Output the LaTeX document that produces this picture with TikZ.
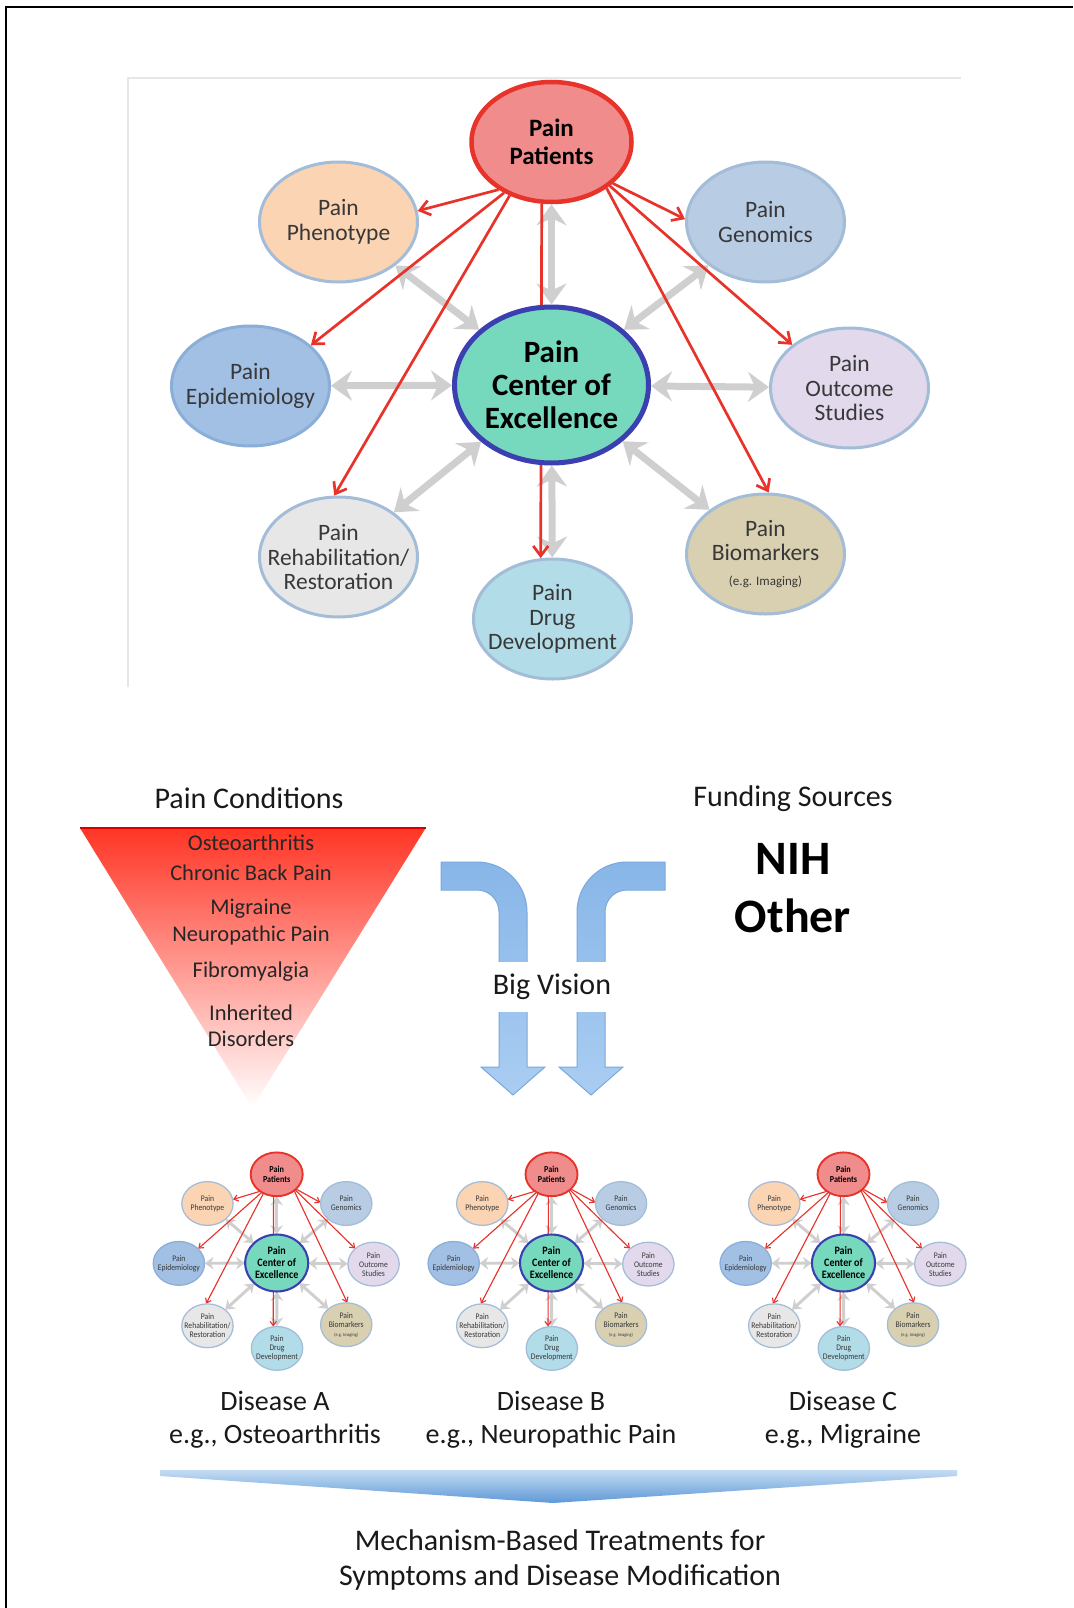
\documentclass[tikz,border=0pt]{standalone}
\usepackage{fontspec}
\setmainfont{Carlito}
\usetikzlibrary{arrows.meta,shapes.geometric}
\pgfdeclarelayer{bg}
\pgfdeclarelayer{mid}
\pgfsetlayers{bg,mid,main}
\definecolor{cPat}{HTML}{F08C8C}
\definecolor{cPatB}{HTML}{E8332B}
\definecolor{cPhe}{HTML}{FBD4B4}
\definecolor{cGen}{HTML}{B8CCE4}
\definecolor{cEpi}{HTML}{A2C0E4}
\definecolor{cEpiB}{HTML}{8AAED8}
\definecolor{cCen}{HTML}{76D8BC}
\definecolor{cCenB}{HTML}{3B3FB0}
\definecolor{cOut}{HTML}{E2DAEC}
\definecolor{cReh}{HTML}{E7E7E7}
\definecolor{cBio}{HTML}{D8D0B0}
\definecolor{cDru}{HTML}{B2DCE8}
\definecolor{cPerB}{HTML}{A3BCD8}
\definecolor{cGray}{HTML}{CFCFCF}
\definecolor{cRed}{HTML}{E8332B}
\definecolor{cTriTop}{HTML}{FF3525}
\definecolor{cTriMid}{HTML}{F3A0A0}
\definecolor{cBlueA}{HTML}{88B6E8}
\definecolor{cBlueB}{HTML}{AACDF2}
\definecolor{cBlueE}{HTML}{7AA8DC}
\definecolor{cChevTop}{HTML}{C4DCF3}
\definecolor{cChevBot}{HTML}{5E99D7}
\definecolor{cFrame}{HTML}{E6E6E6}
\tikzset{
  pe/.style={ellipse, inner xsep=-30pt, inner ysep=-25pt, minimum width=158pt, minimum height=120pt,
    align=center, draw=cPerB, text=black!78, font=\fontsize{23.5}{24.6}\selectfont},
  grayarr/.style={draw=cGray,
    {Stealth[length=\gal pt, width=\gaw pt, inset=\gai pt]}-{Stealth[length=\gal pt, width=\gaw pt, inset=\gai pt]}},
  redarr/.style={draw=cRed, -{Straight Barb[length=\ral pt, width=\raw pt]}},
  lbl/.style={align=center, text=black!90, font=\fontsize{30}{35}\selectfont},
  dlbl/.style={align=center, text=black!90, font=\fontsize{28}{33}\selectfont},
  tri/.style={text=black!85, font=\fontsize{22.5}{24}\selectfont},
  bluearr/.style={top color=cBlueA, bottom color=cBlueB, draw=cBlueE, line width=1pt}
}
\newcommand\paindiagram[2]{%
  \pgfmathsetmacro\gal{#2*21}%
  \pgfmathsetmacro\gaw{#2*30}%
  \pgfmathsetmacro\gai{#2*7}%
  \pgfmathsetmacro\ral{#2*10}%
  \pgfmathsetmacro\raw{#2*15}%
  \node[pe, line width=#2*3pt, fill=cPhe] (#1phe) at (-213,163) {Pain\\Phenotype};
  \node[pe, line width=#2*3pt, fill=cGen] (#1gen) at (214,163) {Pain\\Genomics};
  \node[pe, line width=#2*3pt, fill=cEpi, draw=cEpiB] (#1epi) at (-301,-1) {Pain\\Epidemiology};
  \node[pe, line width=#2*3pt, fill=cOut] (#1out) at (298,-3) {Pain\\Outcome\\Studies};
  \node[pe, line width=#2*3pt, fill=cReh] (#1reh) at (-213,-172) {Pain\\Rehabilitation/\\Restoration};
  \node[pe, line width=#2*3pt, fill=cBio] (#1bio) at (214,-169) {Pain\\Biomarkers\\{\fontsize{13}{14}\selectfont(e.g. Imaging)}};
  \node[pe, line width=#2*3pt, fill=cDru] (#1dru) at (1,-234) {Pain\\Drug\\Development};
  \node[pe, line width=#2*4.5pt, fill=cPat, draw=cPatB, minimum width=160pt, minimum height=120pt,
    text=black, font=\bfseries\fontsize{25}{28}\selectfont] (#1pat) at (0,243) {Pain\\Patients};
  \node[pe, line width=#2*5pt, fill=cCen, draw=cCenB, minimum width=194pt, minimum height=156pt,
    text=black, font=\bfseries\fontsize{31}{32.8}\selectfont] (#1cen) at (0,0) {Pain\\Center of\\Excellence};
  \begin{pgfonlayer}{bg}
    \foreach \n in {pat,phe,gen,epi,out,reh,bio,dru}{\draw[grayarr, line width=#2*7pt] (#1cen) -- (#1\n);}
  \end{pgfonlayer}
  \begin{pgfonlayer}{mid}
    \draw[redarr, line width=#2*2.7pt] (#1pat.-138) -- (#1phe.8);
    \draw[redarr, line width=#2*2.7pt] (#1pat.-133) -- (#1epi.34);
    \draw[redarr, line width=#2*2.7pt] (#1pat.-128) -- (#1reh.94);
    \draw[redarr, line width=#2*2.7pt] (#1pat.-99) -- (#1dru.101);
    \draw[redarr, line width=#2*2.7pt] (#1pat.-40) -- (#1bio.87);
    \draw[redarr, line width=#2*2.7pt] (#1pat.-37) -- (#1out.143);
    \draw[redarr, line width=#2*2.7pt] (#1pat.-34) -- (#1gen.178);
  \end{pgfonlayer}
}
\begin{document}
\begin{tikzpicture}[x=1pt,y=1pt]
\useasboundingbox (0,0) rectangle (1073,-1608);
% outer frame (top and left)
\draw[black, line width=2.5pt] (6,-1608) -- (6,-7) -- (1073,-7);
% faint frame of the top diagram
\draw[cFrame, line width=1.5pt] (128,-687) -- (128,-78) -- (961,-78);
% top diagram
\begin{scope}[shift={(551.5,-385)}]
  \paindiagram{t}{1}
\end{scope}
% headings
\node[lbl] (pc) at (249,-798) {Pain Conditions};
\node[lbl] (fs) at (793,-799) {Funding Sources};
\node[font=\bfseries\fontsize{48}{50}\selectfont] (nih) at (793,-859) {NIH};
\node[font=\bfseries\fontsize{48}{50}\selectfont] (oth) at (793,-916) {Other};
% triangle
\shade[top color=cTriTop, middle color=cTriMid, bottom color=white] (80,-828) -- (425.7,-828) -- (252.3,-1108) -- cycle;
\draw[red!85!black, line width=1.2pt] (80,-828) -- (425.7,-828);
\node[tri] (t1) at (251,-843) {Osteoarthritis};
\node[tri] (t2) at (251,-873) {Chronic Back Pain};
\node[tri] (t3) at (251,-909) {Migraine};
\node[tri] (t4) at (251,-935.5) {Neuropathic Pain};
\node[tri] (t5) at (251,-971.5) {Fibromyalgia};
\node[tri] (t6) at (251,-1012.5) {Inherited};
\node[tri] (t7) at (251,-1039) {Disorders};
% bent blue arrows
\shade[bluearr] (441,-862) -- (477,-862) arc[start angle=90, end angle=0, radius=50]
  -- (527,-1067) -- (545,-1067) -- (513,-1095) -- (481,-1067) -- (499,-1067)
  -- (499,-912) arc[start angle=0, end angle=90, radius=22] -- (441,-890) -- cycle;
\shade[bluearr] (665,-862) -- (627,-862) arc[start angle=90, end angle=180, radius=50]
  -- (577,-1067) -- (559,-1067) -- (591,-1095) -- (623,-1067) -- (605,-1067)
  -- (605,-912) arc[start angle=180, end angle=90, radius=22] -- (665,-890) -- cycle;
\node[fill=white, inner xsep=4pt, minimum height=50pt, text=black!90, font=\fontsize{30}{32}\selectfont] (bv) at (552,-987) {Big Vision};
% mini diagrams
\begin{scope}[shift={(276.7,-1263)}, xscale=0.325, yscale=0.365, transform shape]
  \paindiagram{a}{0.42}
\end{scope}
\begin{scope}[shift={(551.5,-1263)}, xscale=0.325, yscale=0.365, transform shape]
  \paindiagram{b}{0.42}
\end{scope}
\begin{scope}[shift={(843.5,-1263)}, xscale=0.325, yscale=0.365, transform shape]
  \paindiagram{c}{0.42}
\end{scope}
% disease labels
\node[dlbl] (da) at (275,-1419.5) {Disease A\\e.g., Osteoarthritis};
\node[dlbl] (db) at (551,-1419.5) {Disease B\\e.g., Neuropathic Pain};
\node[dlbl] (dc) at (843,-1419.5) {Disease C\\e.g., Migraine};
% wide chevron
\shade[top color=cChevTop, bottom color=cChevBot] (160,-1470) -- (957,-1470) -- (957,-1476) -- (553,-1503) -- (160,-1476) -- cycle;
% final text
\node[lbl] (mb) at (560,-1559.5) {Mechanism-Based Treatments for\\Symptoms and Disease Modification};
\end{tikzpicture}
\end{document}
